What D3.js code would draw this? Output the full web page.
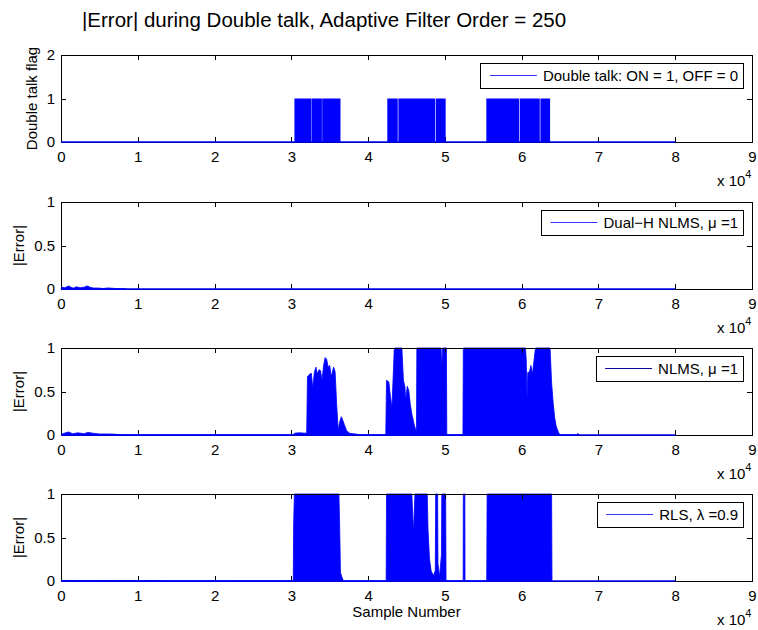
<!DOCTYPE html>
<html>
<head>
<meta charset="utf-8">
<script src="https://d3js.org/d3.v7.min.js"></script>
<style>
    body { margin: 0; background: #fff; }
    svg { font-family: "Liberation Sans", Arial, sans-serif; }
</style>
</head>
<body>
<svg id="drawing_region"></svg>
<script>
// sample numbers are given in units of 10^4
const x_ticks = [0, 1, 2, 3, 4, 5, 6, 7, 8, 9];
const flag_ticks = [0, 1, 2];
const err_ticks = [0, 0.5, 1];
const data_end = 8;

// double talk flag = 1 on these intervals, 0 elsewhere
const double_talk_on = [
    [3.04, 3.258], [3.262, 3.398], [3.402, 3.64],
    [4.25, 4.386], [4.394, 4.876], [4.884, 5.01],
    [5.54, 5.966], [5.974, 6.236], [6.244, 6.37]
];

// |error| envelopes, [sample, peak]
const dual_h_nlms = [
    [0, 0], [0.01, 0.02], [0.05, 0.015], [0.1, 0.035], [0.13, 0.02], [0.16, 0.01], [0.2, 0.025],
    [0.25, 0.015], [0.3, 0.02], [0.34, 0.035], [0.38, 0.02], [0.42, 0.012], [0.5, 0.01],
    [0.55, 0.005], [0.6, 0.012], [0.65, 0.01], [0.7, 0.006], [0.75, 0.004], [0.8, 0.002], [0.85, 0]
];

const nlms = [
    [0, 0], [0.02, 0.015], [0.1, 0.035], [0.15, 0.015], [0.22, 0.025], [0.3, 0.015], [0.35, 0.03],
    [0.42, 0.02], [0.5, 0.012], [0.6, 0.012], [0.7, 0.01], [0.75, 0.004], [0.8, 0],
    [3.02, 0], [3.04, 0.02], [3.1, 0.025], [3.2, 0.02], [3.21, 0.67], [3.24, 0.70], [3.26, 0.71],
    [3.28, 0.54], [3.30, 0.72], [3.32, 0.78], [3.34, 0.70], [3.36, 0.75], [3.38, 0.74], [3.40, 0.63],
    [3.42, 0.80], [3.44, 0.89], [3.46, 0.87], [3.48, 0.78], [3.50, 0.80], [3.52, 0.67], [3.55, 0.78],
    [3.57, 0.73], [3.59, 0.36], [3.61, 0.06], [3.63, 0.15], [3.65, 0.21], [3.67, 0.17], [3.69, 0.12],
    [3.72, 0.05], [3.76, 0.02], [3.85, 0.01], [3.9, 0],
    [4.23, 0], [4.24, 0.63], [4.27, 0.61], [4.29, 0.45], [4.31, 0.31], [4.33, 0.75], [4.34, 0.98],
    [4.35, 1], [4.44, 1], [4.46, 0.63], [4.48, 0.55], [4.49, 0.40], [4.51, 0.56], [4.53, 0.51],
    [4.55, 0.35], [4.57, 0.24], [4.60, 0.12], [4.62, 0.06], [4.63, 0.05], [4.635, 1], [4.95, 1],
    [4.96, 0.77], [4.97, 1], [5.02, 1], [5.025, 0],
    [5.235, 0], [5.24, 1], [6.05, 1], [6.06, 0.85], [6.07, 0.42], [6.08, 0.72], [6.10, 0.72],
    [6.12, 0.80], [6.14, 0.70], [6.16, 0.85], [6.18, 1], [6.37, 1], [6.39, 0.6], [6.41, 0.37],
    [6.43, 0.2], [6.45, 0.1], [6.48, 0.03], [6.5, 0],
    [6.72, 0], [6.73, 0.02], [6.75, 0]
];

const rls = [
    [0, 0], [0.02, 0.006], [0.3, 0.004], [0.8, 0.005], [1.5, 0.003], [2.8, 0.004], [3.0, 0.003],
    [3.025, 0], [3.03, 0.65], [3.04, 1], [3.62, 1], [3.63, 0.6], [3.64, 0.1], [3.66, 0.04], [3.68, 0],
    [4.235, 0], [4.24, 1], [4.57, 1], [4.59, 0.56], [4.61, 1], [4.77, 1], [4.78, 0.6], [4.80, 0.25],
    [4.82, 0.12], [4.85, 0.06], [4.875, 0.12], [4.88, 1], [4.905, 1], [4.91, 0.2], [4.93, 0.05],
    [4.955, 0.3], [4.96, 1], [5.01, 1], [5.015, 0],
    [5.238, 0], [5.24, 1], [5.26, 1], [5.262, 0],
    [5.545, 0], [5.55, 1], [6.39, 1], [6.395, 0]
];

const title = "|Error| during Double talk, Adaptive Filter Order = 250";

class Panel {

    constructor(config, data) {
        this.config = config;
        this.data = data;
        this.init();
    }

    init() {
        let self = this;
        const c = self.config;

        self.chart = d3.select('#drawing_region').append('g')
            .attr('transform', `translate(${c.left}, ${c.top})`);

        self.inner_width = c.width;
        self.inner_height = c.height;

        self.xscale = d3.scaleLinear()
            .domain([0, 9])
            .range([0, self.inner_width]);

        self.yscale = d3.scaleLinear()
            .domain([0, c.ymax])
            .range([self.inner_height, 0]);
    }

    render() {
        let self = this;
        const c = self.config;
        const fmt = d => d;

        const bottom = d3.axisBottom(self.xscale).tickValues(x_ticks).tickFormat(fmt)
            .tickSizeInner(-5).tickSizeOuter(0).tickPadding(9);
        const left = d3.axisLeft(self.yscale).tickValues(c.ticks).tickFormat(fmt)
            .tickSizeInner(-5).tickSizeOuter(0).tickPadding(6);
        const right = d3.axisRight(self.yscale).tickValues(c.ticks).tickFormat('')
            .tickSizeInner(-5).tickSizeOuter(0);
        const top = d3.axisTop(self.xscale).tickValues(x_ticks).tickFormat('')
            .tickSizeInner(-5).tickSizeOuter(0);

        self.chart.append('g')
            .attr('class', 'axis')
            .attr('transform', `translate(0, ${self.inner_height})`)
            .call(bottom);
        self.chart.append('g').attr('class', 'axis').call(left);
        self.chart.append('g')
            .attr('class', 'axis')
            .attr('transform', `translate(${self.inner_width}, 0)`)
            .call(right);

        // data
        if (c.kind === 'flag') {
            self.chart.selectAll('.on')
                .data(self.data)
                .enter()
                .append('rect')
                .attr('x', d => self.xscale(d[0]))
                .attr('width', d => self.xscale(d[1]) - self.xscale(d[0]))
                .attr('y', self.yscale(1))
                .attr('height', self.yscale(0) - self.yscale(1))
                .attr('fill', '#0000ff');
        } else {
            const area = d3.area()
                .x(d => self.xscale(d[0]))
                .y0(self.yscale(0))
                .y1(d => self.yscale(d[1]));
            self.chart.append('path')
                .datum(self.data)
                .attr('d', area)
                .attr('fill', '#0000ff')
                .attr('stroke', '#0000ff')
                .attr('stroke-width', 0.8);
        }

        const line = d3.line()
            .x(d => self.xscale(d[0]))
            .y(d => self.yscale(d[1]));
        self.chart.append('path')
            .datum([[0, 0], [data_end, 0]])
            .attr('d', line)
            .attr('stroke', '#0000ff')
            .attr('stroke-width', 1.5)
            .attr('fill', 'none');

        self.chart.append('g').attr('class', 'axis').call(top);

        self.chart.selectAll('.axis text')
            .attr('font-size', 15)
            .attr('fill', '#000');
        self.chart.selectAll('.axis path, .axis line')
            .attr('stroke', '#000')
            .attr('shape-rendering', 'crispEdges');

        // y label
        self.chart.append('text')
            .attr('transform', `translate(${c.ylabel_x - c.left}, ${self.inner_height / 2}) rotate(-90)`)
            .attr('text-anchor', 'middle')
            .attr('font-size', 15)
            .text(c.ylabel);

        // x 10^4
        const mult = self.chart.append('text')
            .attr('x', 717 - c.left)
            .attr('y', self.inner_height + 44)
            .attr('font-size', 15);
        mult.append('tspan').text('x 10');
        mult.append('tspan').attr('dy', -8).attr('font-size', 11).text('4');

        if (c.xlabel) {
            self.chart.append('text')
                .attr('x', self.inner_width / 2)
                .attr('y', self.inner_height + 36)
                .attr('text-anchor', 'middle')
                .attr('font-size', 15)
                .text(c.xlabel);
        }

        // legend
        const legend = self.chart.append('g');
        const label = legend.append('text')
            .attr('font-size', 15)
            .text(c.legend);
        const tw = label.node().getComputedTextLength();
        const lw = 62 + tw + 5;
        const lx = self.inner_width - 9 - lw;
        legend.attr('transform', `translate(${lx}, 8)`);
        legend.insert('rect', 'text')
            .attr('width', lw)
            .attr('height', 25)
            .attr('fill', '#fff')
            .attr('stroke', '#000')
            .attr('shape-rendering', 'crispEdges');
        legend.append('line')
            .attr('x1', 9).attr('x2', 56)
            .attr('y1', 12.5).attr('y2', 12.5)
            .attr('stroke', c.legend_color)
            .attr('stroke-width', 1);
        label.attr('x', 62).attr('y', 18);
    }
}

d3.select('#drawing_region')
    .attr('width', 758)
    .attr('height', 630);

d3.select('#drawing_region').append('text')
    .attr('x', 82)
    .attr('y', 27)
    .attr('font-size', 20.5)
    .text(title);

const base = { left: 61, width: 691, height: 87 };

const panels = [
    new Panel({ ...base, top: 55, ymax: 2, ticks: flag_ticks, kind: 'flag', ylabel: 'Double talk flag',
        ylabel_x: 37, legend: 'Double talk: ON = 1, OFF = 0', legend_color: '#3333ff' }, double_talk_on),
    new Panel({ ...base, top: 202, ymax: 1, ticks: err_ticks, ylabel: '|Error|',
        ylabel_x: 24, legend: 'Dual\u2212H NLMS, \u03bc =1', legend_color: '#3333ff' }, dual_h_nlms),
    new Panel({ ...base, top: 348, ymax: 1, ticks: err_ticks, ylabel: '|Error|',
        ylabel_x: 24, legend: 'NLMS, \u03bc =1', legend_color: '#0a0aa0' }, nlms),
    new Panel({ ...base, top: 494, ymax: 1, ticks: err_ticks, ylabel: '|Error|', xlabel: 'Sample Number',
        ylabel_x: 24, legend: 'RLS, \u03bb =0.9', legend_color: '#3333ff' }, rls)
];

panels.forEach(p => p.render());
</script>
</body>
</html>
